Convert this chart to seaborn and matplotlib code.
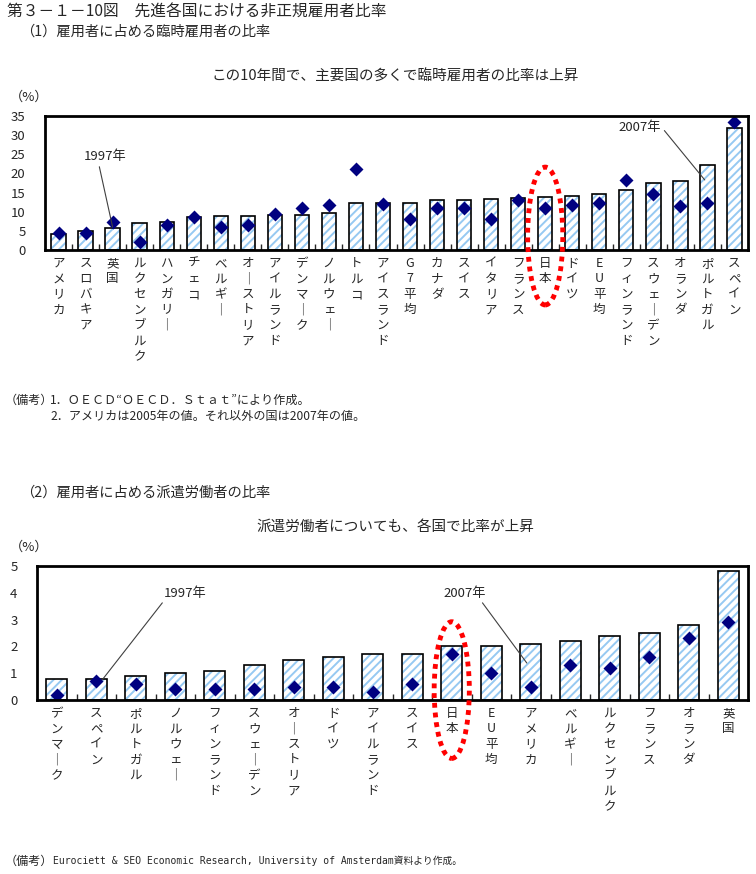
import matplotlib
matplotlib.use("Agg")
import numpy as np
import matplotlib.pyplot as plt
import seaborn as sns
from matplotlib.patches import Ellipse

# ---- data (1) temporary employees, % of employees ----
temp_countries = ["アメリカ", "スロバキア", "英国", "ルクセンブルク", "ハンガリー", "チェコ",
                  "ベルギー", "オーストリア", "アイルランド", "デンマーク", "ノルウェー", "トルコ",
                  "アイスランド", "G7平均", "カナダ", "スイス", "イタリア", "フランス", "日本",
                  "ドイツ", "EU平均", "フィンランド", "スウェーデン", "オランダ", "ポルトガル", "スペイン"]
temp_2007 = [4.2, 5.0, 5.7, 7.0, 7.2, 8.6, 8.9, 8.9, 9.1, 9.1, 9.7, 12.3, 12.2,
             12.4, 13.0, 13.0, 13.2, 13.5, 13.8, 14.0, 14.5, 15.8, 17.4, 17.9, 22.1, 31.8]
temp_1997 = [4.4, 4.4, 7.2, 2.0, 6.4, 8.6, 6.1, 6.4, 9.3, 10.9, 11.7, 21.1, 11.9,
             8.0, 11.1, 10.9, 8.0, 13.1, 11.0, 11.7, 12.2, 18.3, 14.5, 11.4, 12.2, 33.5]
temp_yticks = [0, 5, 10, 15, 20, 25, 30, 35]

# ---- data (2) temporary agency workers, % of employees ----
disp_countries = ["デンマーク", "スペイン", "ポルトガル", "ノルウェー", "フィンランド", "スウェーデン",
                  "オーストリア", "ドイツ", "アイルランド", "スイス", "日本", "EU平均", "アメリカ",
                  "ベルギー", "ルクセンブルク", "フランス", "オランダ", "英国"]
disp_2007 = [0.77, 0.77, 0.9, 1.0, 1.07, 1.29, 1.48, 1.6, 1.7, 1.7, 2.0, 2.0, 2.08,
             2.2, 2.38, 2.49, 2.79, 4.8]
disp_1997 = [0.2, 0.71, 0.6, 0.4, 0.4, 0.4, 0.5, 0.49, 0.29, 0.6, 1.72, 1.0, 0.49,
             1.3, 1.19, 1.6, 2.31, 2.91]
disp_yticks = [0, 1, 2, 3, 4, 5]

HATCH_COLOR = "#96c9f2"
DIAMOND_COLOR = "#000080"
W, H = 756, 874

sns.set_style("white")
plt.rcParams["font.family"] = ["Noto Sans CJK JP", "DejaVu Sans"]
plt.rcParams["hatch.linewidth"] = 1.4


def fx(x, y):
    """pixel position -> figure fraction"""
    return x / W, 1 - y / H


def vertical(label):
    return "\n".join(label.replace("ー", "｜"))


def draw_panel(ax, cats, bars, dots, yticks, ell_y, ell_w, ell_h):
    n = len(cats)
    sns.barplot(x=cats, y=bars, color="white", saturation=1, hatch="////",
                edgecolor=HATCH_COLOR, linewidth=0, width=0.53, errorbar=None, ax=ax)
    sns.barplot(x=cats, y=bars, fill=False, color="black", linewidth=1.2,
                width=0.53, errorbar=None, ax=ax)
    sns.pointplot(x=cats, y=dots, color=DIAMOND_COLOR, marker="D", markersize=5.5,
                  linestyle="none", errorbar=None, ax=ax)

    ax.set_xlim(-0.5, n - 0.5)
    ax.set_ylim(yticks[0], yticks[-1])
    ax.set_yticks(yticks)
    ax.tick_params(axis="y", length=0, labelsize=9.5, pad=14)
    ax.set_xticks(range(n), [vertical(c) for c in cats])
    ax.tick_params(axis="x", which="major", length=0, labelsize=9, pad=5)
    for lab in ax.get_xticklabels():
        lab.set_linespacing(1.25)
        lab.set_verticalalignment("top")
    ax.set_xticks(np.arange(n - 1) + 0.5, minor=True)
    ax.tick_params(axis="x", which="minor", direction="in", length=4, width=1, bottom=True)
    ax.set_xlabel("")
    ax.set_ylabel("")
    for sp in ax.spines.values():
        sp.set_linewidth(2)
        sp.set_color("black")

    # red dotted circle around Japan
    j = cats.index("日本")
    ax.add_patch(Ellipse((j, ell_y), ell_w, ell_h, transform=ax.transData, fill=False,
                         edgecolor="red", linestyle=(0, (1, 1)), linewidth=3.5,
                         clip_on=False, zorder=5))


fig = plt.figure(figsize=(W / 100, H / 100), dpi=100)
ax1 = fig.add_axes([45 / W, 1 - 250 / H, 703 / W, 134 / H])
ax2 = fig.add_axes([37 / W, 1 - 700 / H, 711 / W, 134 / H])

draw_panel(ax1, temp_countries, temp_2007, temp_1997, temp_yticks, 3.65, 1.3, 36)
draw_panel(ax2, disp_countries, disp_2007, disp_1997, disp_yticks, 0.37, 0.89, 5.1)

line_kw = dict(arrowstyle="-", color="#404040", lw=0.8, shrinkA=0, shrinkB=0)
ax1.annotate("1997年", xy=(2, 6.0), xytext=(1.72, 24.3), ha="center", va="center",
             fontsize=9.5, arrowprops=dict(relpos=(0.35, 0), **line_kw))
ax1.annotate("2007年", xy=(23.9, 18.3), xytext=(21.5, 31.9), ha="center", va="center",
             fontsize=9.5, arrowprops=dict(relpos=(1.0, 0.6), **line_kw))
ax2.annotate("1997年", xy=(1.15, 0.75), xytext=(3.25, 3.99), ha="center", va="center",
             fontsize=9.5, arrowprops=dict(relpos=(0.05, 0.1), **line_kw))
ax2.annotate("2007年", xy=(11.9, 1.38), xytext=(10.34, 3.99), ha="center", va="center",
             fontsize=9.5, arrowprops=dict(relpos=(0.85, 0.0), **line_kw))

# headings and notes
fig.text(*fx(7, 12), "第３－１－10図　先進各国における非正規雇用者比率", fontsize=11.3, va="center")
fig.text(*fx(20, 32), "（1）雇用者に占める臨時雇用者の比率", fontsize=10.3, va="center")
fig.text(*fx(395, 77), "この10年間で、主要国の多くで臨時雇用者の比率は上昇", fontsize=10.5,
         ha="center", va="center")
fig.text(*fx(10, 97), "（%）", fontsize=9.5, va="center")
fig.text(*fx(5, 400), "（備考）", fontsize=8.7, va="center")
fig.text(*fx(50, 400), "1．ＯＥＣＤ“ＯＥＣＤ．Ｓｔａｔ”により作成。", fontsize=8.7, va="center")
fig.text(*fx(50, 416), "2．アメリカは2005年の値。それ以外の国は2007年の値。", fontsize=8.7, va="center")

fig.text(*fx(20, 493), "（2）雇用者に占める派遣労働者の比率", fontsize=10.3, va="center")
fig.text(*fx(395, 527), "派遣労働者についても、各国で比率が上昇", fontsize=10.5,
         ha="center", va="center")
fig.text(*fx(10, 547), "（%）", fontsize=9.5, va="center")
fig.text(*fx(5, 861), "（備考）", fontsize=8.7, va="center")
fig.text(*fx(53, 861), "Eurociett & SEO Economic Research, University of Amsterdam資料より作成。",
         fontsize=7, va="center", family=["DejaVu Sans Mono", "Noto Sans CJK JP"])

fig.savefig("out.png", dpi=100)
